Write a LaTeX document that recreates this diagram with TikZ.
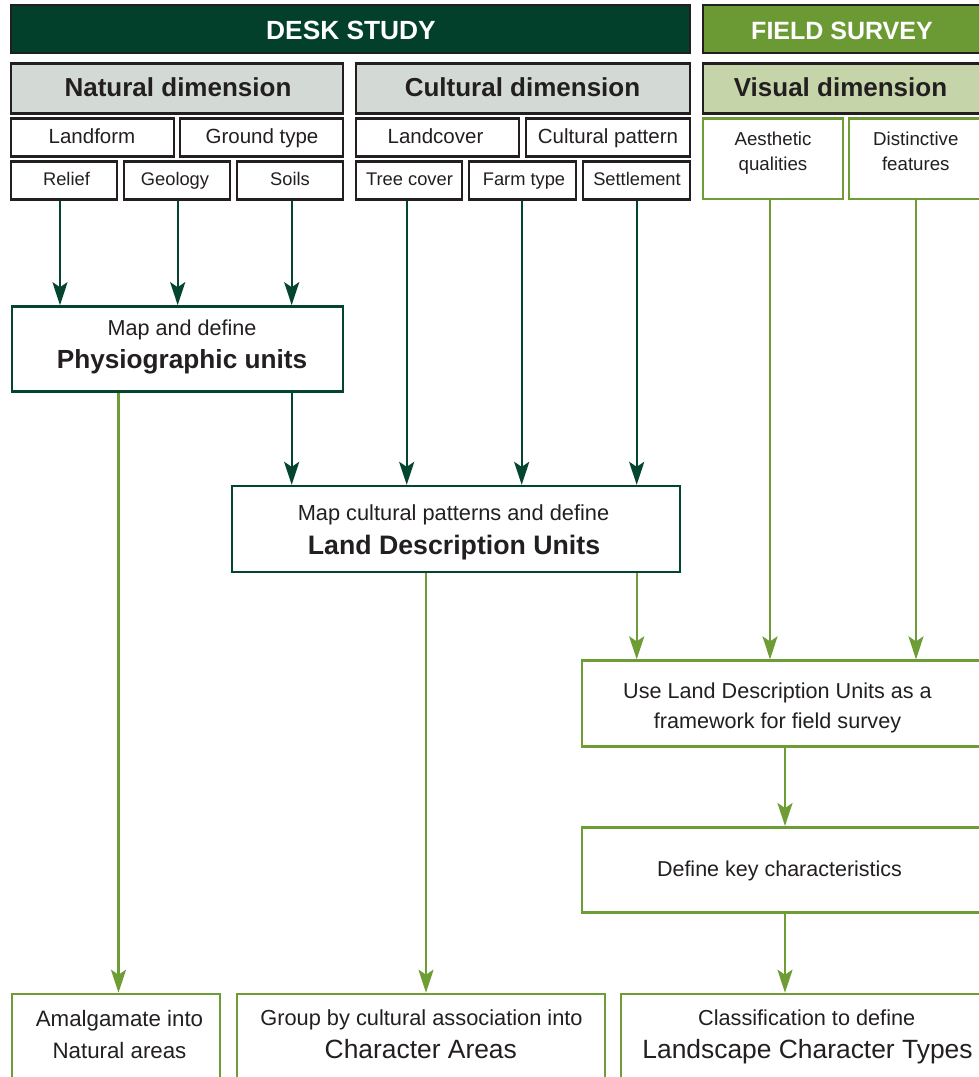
\documentclass[tikz,border=0pt]{standalone}
\usepackage{fontspec}
\setmainfont{Liberation Sans}
\usetikzlibrary{arrows.meta}
\definecolor{deskgreen}{HTML}{03402B}
\definecolor{fieldgreen}{HTML}{6B9A34}
\definecolor{lgray}{HTML}{D3DAD5}
\definecolor{lgreen}{HTML}{C6D5A9}
\definecolor{edgegray}{HTML}{231F20}
\definecolor{txtgray}{HTML}{231F20}
\definecolor{darkline}{HTML}{03452F}
\definecolor{greenline}{HTML}{6E9C35}
\newcommand\fz[1]{\fontsize{#1pt}{#1pt}\selectfont}
\tikzset{
  bar/.style={draw=edgegray, line width=2.6pt, inner sep=0pt},
  gbox/.style={draw=greenline, line width=2.6pt, fill=white, inner sep=0pt},
  dbox/.style={draw=darkline, line width=2.6pt, fill=white, inner sep=0pt},
  txt/.style={anchor=base, inner sep=0pt, text=txtgray},
  wtxt/.style={txt, text=white},
  darr/.style={draw=darkline, line width=2.4pt, -{Stealth[length=23pt 0,width=15pt 0,inset=5pt 0]}},
  garr/.style={draw=greenline, line width=2.4pt, -{Stealth[length=23pt 0,width=15pt 0,inset=5pt 0]}}
}
\begin{document}
\begin{tikzpicture}[x=1pt,y=-1pt]
\useasboundingbox (0,0) rectangle (979,1077);
\clip (0,0) rectangle (979,1077);
\fill[white] (0,0) rectangle (979,1077);

% header bars
\node[bar, fill=deskgreen, minimum width=679pt, minimum height=48pt] (desk) at (350.5,29) {};
\node[bar, fill=fieldgreen, minimum width=290pt, minimum height=48pt] (field) at (848,29) {};
\node[wtxt, font=\bfseries\fz{26.3}] (deskT) at (351,39.3) {DESK STUDY};
\node[wtxt, font=\bfseries\fz{25}] (fieldT) at (842,39.3) {FIELD SURVEY};

% dimension bars
\node[bar, fill=lgray, minimum width=332pt, minimum height=50pt] (natdim) at (177,88.5) {};
\node[bar, fill=lgray, minimum width=334pt, minimum height=50pt] (culdim) at (523,88.5) {};
\node[bar, fill=lgreen, minimum width=290pt, minimum height=50pt] (visdim) at (848,88.5) {};
\node[txt, font=\bfseries\fz{26}] (natdimT) at (178,96.7) {Natural dimension};
\node[txt, font=\bfseries\fz{26}] (culdimT) at (522.5,96.7) {Cultural dimension};
\node[txt, font=\bfseries\fz{26}] (visdimT) at (840.5,96.7) {Visual dimension};

% second row
\node[bar, fill=white, minimum width=163pt, minimum height=38pt] (landform) at (92.5,137.5) {};
\node[bar, fill=white, minimum width=163pt, minimum height=38pt] (ground) at (261.5,137.5) {};
\node[bar, fill=white, minimum width=163pt, minimum height=38pt] (landcover) at (437.5,137.5) {};
\node[bar, fill=white, minimum width=164pt, minimum height=38pt] (culpat) at (608,137.5) {};
\node[txt, font=\fz{20.5}] (landformT) at (92,143.3) {Landform};
\node[txt, font=\fz{20.5}] (groundT) at (262,143.3) {Ground type};
\node[txt, font=\fz{20.5}] (landcoverT) at (435.5,143.3) {Landcover};
\node[txt, font=\fz{20.5}] (culpatT) at (608,143.3) {Cultural pattern};

% third row
\node[bar, fill=white, minimum width=106pt, minimum height=37.6pt] (relief) at (64,180.5) {};
\node[bar, fill=white, minimum width=106pt, minimum height=37.6pt] (geology) at (177,180.5) {};
\node[bar, fill=white, minimum width=106pt, minimum height=37.6pt] (soils) at (290,180.5) {};
\node[bar, fill=white, minimum width=106pt, minimum height=37.6pt] (tree) at (409,180.5) {};
\node[bar, fill=white, minimum width=107pt, minimum height=37.6pt] (farm) at (522.5,180.5) {};
\node[bar, fill=white, minimum width=107pt, minimum height=37.6pt] (settle) at (636.5,180.5) {};
\node[txt, font=\fz{18.3}] (reliefT) at (66.5,185.7) {Relief};
\node[txt, font=\fz{18.3}] (geologyT) at (175,185.7) {Geology};
\node[txt, font=\fz{18.3}] (soilsT) at (290,185.7) {Soils};
\node[txt, font=\fz{18.3}] (treeT) at (409.5,185.7) {Tree cover};
\node[txt, font=\fz{18.3}] (farmT) at (524,185.7) {Farm type};
\node[txt, font=\fz{18.3}] (settleT) at (637,185.7) {Settlement};

% visual boxes
\node[gbox, minimum width=140pt, minimum height=80.7pt] (aes) at (773,158.7) {};
\node[gbox, minimum width=144pt, minimum height=80.7pt] (dist) at (921,158.7) {};
\node[txt, font=\fz{18.7}] (aesT1) at (773,145) {Aesthetic};
\node[txt, font=\fz{18.7}] (aesT2) at (773,170.7) {qualities};
\node[txt, font=\fz{18.7}] (distT1) at (915.8,145) {Distinctive};
\node[txt, font=\fz{18.7}] (distT2) at (915.8,170.7) {features};

% physiographic units
\node[dbox, minimum width=331pt, minimum height=85pt] (physio) at (177.5,349) {};
\node[txt, font=\fz{21.6}] (physioT1) at (182,335) {Map and define};
\node[txt, font=\bfseries\fz{26.2}] (physioT2) at (182,368) {Physiographic units};

% land description units
\node[dbox, minimum width=448pt, minimum height=85.7pt] (ldu) at (456,529) {};
\node[txt, font=\fz{21.8}] (lduT1) at (453.5,520) {Map cultural patterns and define};
\node[txt, font=\bfseries\fz{26.7}] (lduT2) at (454,554) {Land Description Units};

% field survey chain
\node[gbox, minimum width=401pt, minimum height=86pt] (use) at (782.5,703.7) {};
\node[txt, font=\fz{21.6}] (useT1) at (777.5,698.3) {Use Land Description Units as a};
\node[txt, font=\fz{21.6}] (useT2) at (777.5,728.3) {framework for field survey};
\node[gbox, minimum width=401pt, minimum height=85.3pt] (define) at (782.5,870) {};
\node[txt, font=\fz{21.5}] (defineT) at (779.5,876.7) {Define key characteristics};

% bottom boxes
\node[gbox, minimum width=208pt, minimum height=106pt] (amal) at (116,1047) {};
\node[txt, font=\fz{22.3}] (amalT1) at (119.5,1026) {Amalgamate into};
\node[txt, font=\fz{22.3}] (amalT2) at (119.5,1058) {Natural areas};
\node[gbox, minimum width=368pt, minimum height=106pt] (group) at (421,1047) {};
\node[txt, font=\fz{21.8}] (groupT1) at (421.5,1025) {Group by cultural association into};
\node[txt, font=\fz{26.4}] (groupT2) at (420.8,1058) {Character Areas};
\node[gbox, minimum width=373pt, minimum height=106pt] (class) at (807.5,1047) {};
\node[txt, font=\fz{21.7}] (classT1) at (806.7,1025) {Classification to define};
\node[txt, font=\fz{26.4}] (classT2) at (807.5,1058) {Landscape Character Types};

% connector anchors
\coordinate (rA) at ([xshift=-4pt]relief.south);
\coordinate (gA) at ([xshift=0.7pt]geology.south);
\coordinate (sA) at ([xshift=1.7pt]soils.south);
\coordinate (tA) at ([xshift=-2.3pt]tree.south);
\coordinate (fA) at ([xshift=-0.8pt]farm.south);
\coordinate (seA) at ([xshift=0.2pt]settle.south);
\coordinate (aA) at ([xshift=-3pt]aes.south);
\coordinate (dA) at ([xshift=-5pt]dist.south);
\coordinate (pA) at ([xshift=-59pt]physio.south);
\coordinate (lA) at ([xshift=-30pt]ldu.south);
\coordinate (uA) at ([xshift=2.5pt]use.south);

% dark green arrows
\draw[darr] (rA) -- (rA |- physio.north);
\draw[darr] (gA) -- (gA |- physio.north);
\draw[darr] (sA) -- (sA |- physio.north);
\draw[darr] (sA |- physio.south) -- (sA |- ldu.north);
\draw[darr] (tA) -- (tA |- ldu.north);
\draw[darr] (fA) -- (fA |- ldu.north);
\draw[darr] (seA) -- (seA |- ldu.north);

% green arrows
\draw[garr] (pA) -- (pA |- amal.north);
\draw[garr] (lA) -- (lA |- group.north);
\draw[garr] (seA |- ldu.south) -- (seA |- use.north);
\draw[garr] (aA) -- (aA |- use.north);
\draw[garr] (dA) -- (dA |- use.north);
\draw[garr] (uA) -- (uA |- define.north);
\draw[garr] (uA |- define.south) -- (uA |- class.north);
\end{tikzpicture}
\end{document}
